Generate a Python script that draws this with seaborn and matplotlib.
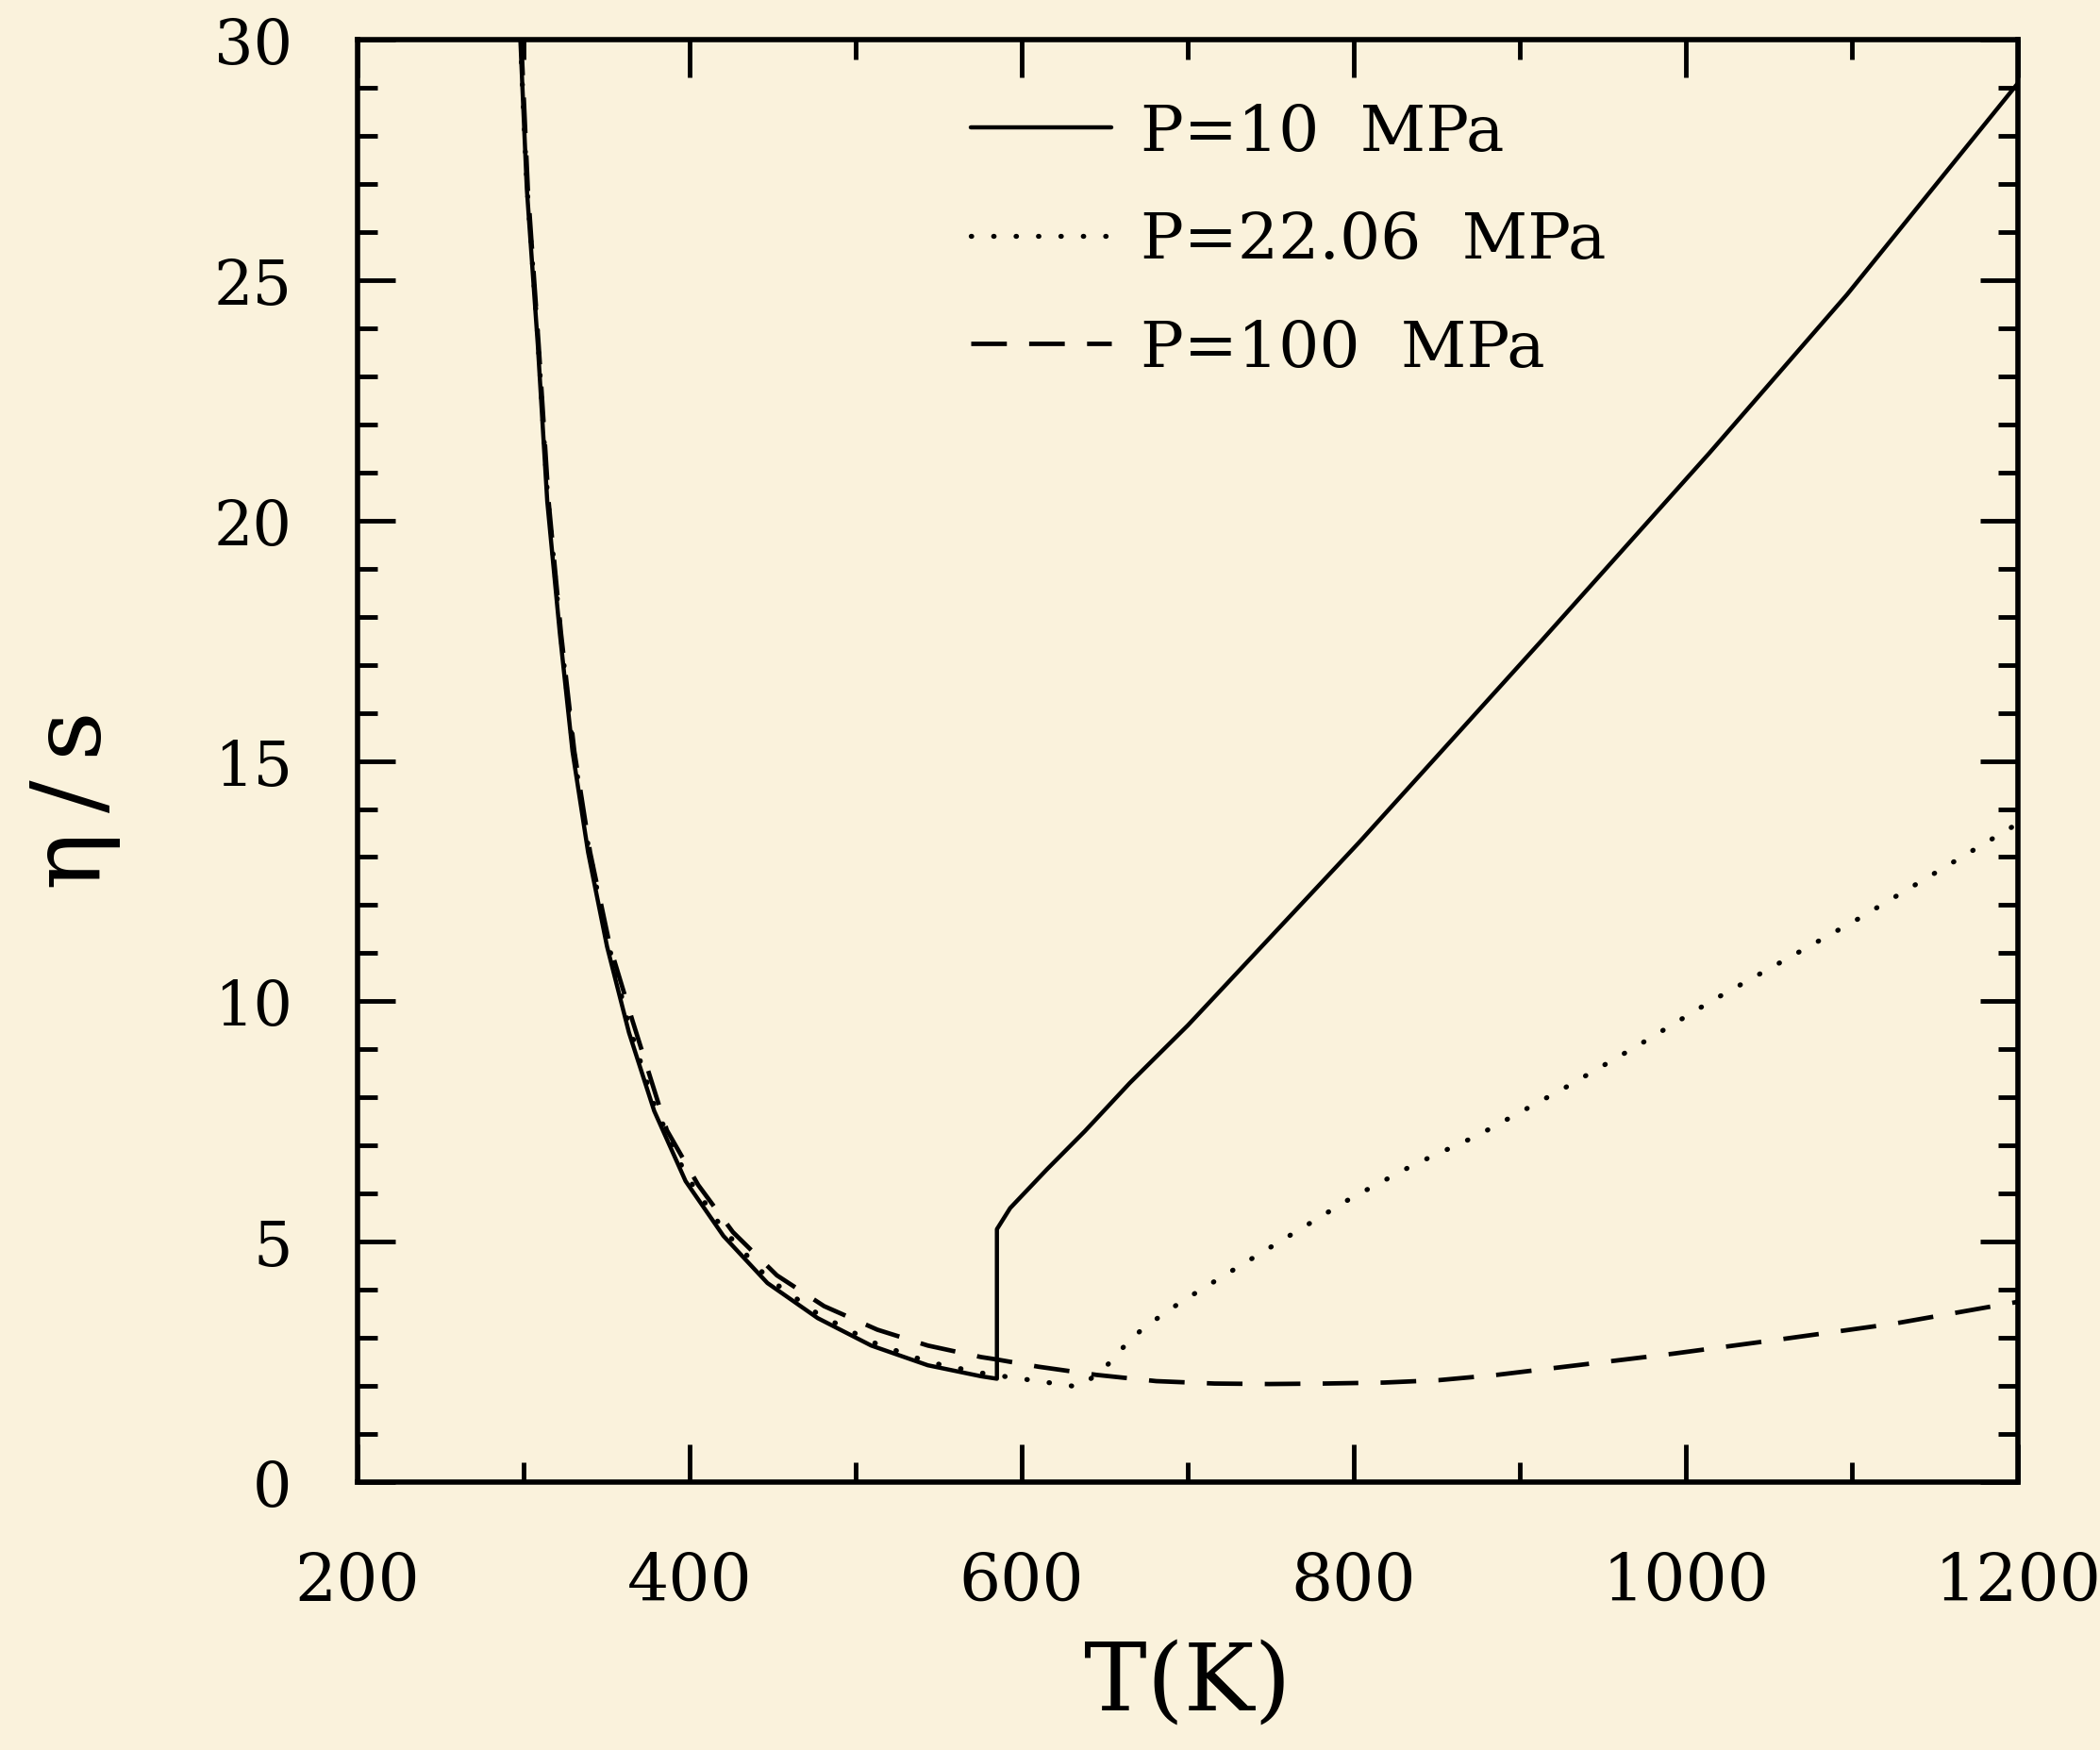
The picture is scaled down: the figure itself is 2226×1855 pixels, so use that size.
import matplotlib
matplotlib.use("Agg")
import matplotlib.pyplot as plt
import seaborn as sns
import pandas as pd
from matplotlib.ticker import MultipleLocator

# ---- data ----
labels = ["P=10  MPa", "P=22.06  MPa", "P=100  MPa"]

T_10 = [298, 301.9, 308.5, 314.2, 321.8, 329.4, 338.8, 350.2, 363.4, 378.6, 397.5, 420.3,
        446.8, 477.1, 509.3, 543.4, 575.6, 585,
        585, 593, 615, 638, 665, 700, 803, 913, 1014, 1097, 1200]
v_10 = [30, 26.9, 23.66, 20.4, 17.65, 15.2, 13.1, 11.14, 9.35, 7.72, 6.26, 5.12,
        4.14, 3.41, 2.84, 2.43, 2.2, 2.15,
        5.26, 5.7, 6.5, 7.3, 8.3, 9.5, 13.3, 17.5, 21.4, 24.7, 29.1]

T_22 = [298, 301.9, 308.5, 314.2, 321.8, 329.4, 338.8, 350.2, 363.4, 378.6, 397.5, 420.3,
        446.8, 477.1, 509.3, 543.4, 575.6, 585,
        610, 634, 648, 661, 673, 696, 722, 760, 798, 836, 874, 927, 972, 1015, 1103, 1200]
v_22 = [30, 27.0, 23.8, 20.6, 17.8, 15.35, 13.25, 11.3, 9.5, 7.85, 6.4, 5.25,
        4.25, 3.5, 2.92, 2.5, 2.27, 2.22,
        2.1, 1.98, 2.3, 2.8, 3.2, 3.75, 4.3, 5.1, 5.9, 6.6, 7.2, 8.2, 9.1, 10.0, 11.7, 13.7]

T_100 = [298.5, 302.5, 309, 315, 322.5, 330.5, 340, 352, 365.5, 386.2, 405.1, 426, 452.5,
         480.9, 513, 543.4, 575.6, 585, 610, 645, 681, 716, 749, 782, 818, 851, 886, 915,
         992, 1057, 1126, 1200]
v_100 = [30, 26.9, 23.66, 20.4, 17.65, 15.2, 13.1, 11.14, 9.6, 7.32, 6.18, 5.2, 4.3,
         3.66, 3.17, 2.84, 2.6, 2.55, 2.4, 2.23, 2.1, 2.05, 2.04, 2.05, 2.07, 2.12, 2.23, 2.35,
         2.67, 2.97, 3.3, 3.75]

x_ticks = [200, 400, 600, 800, 1000, 1200]
y_ticks = [0, 5, 10, 15, 20, 25, 30]

series = [(labels[0], T_10, v_10), (labels[1], T_22, v_22), (labels[2], T_100, v_100)]
rows = []
for name, ts, vs in series:
    for i, (t, v) in enumerate(zip(ts, vs)):
        rows.append({"T": t, "eta_s": v, "P": name, "order": i})
df = pd.DataFrame(rows)

# ---- style ----
sns.set_theme(style="ticks")
bg = "#faf2dc"
plt.rcParams["font.family"] = ["DejaVu Serif"]
for k in ["text.color", "axes.labelcolor", "xtick.color", "ytick.color", "axes.edgecolor"]:
    plt.rcParams[k] = "black"

fig = plt.figure(figsize=(22.26, 18.56), dpi=100, facecolor=bg)
ax = fig.add_axes([0.1703, 0.1530, 0.7907, 0.8238])
ax.set_facecolor(bg)

dash_map = {labels[0]: "", labels[1]: (0.1, 4.4), labels[2]: (8, 5)}
lw_list = [3.2, 3.8, 3.4]
cap_list = ["butt", "round", "butt"]

sns.lineplot(data=df, x="T", y="eta_s", hue="P", style="P",
             hue_order=labels, style_order=labels,
             palette=["black"] * 3, dashes=dash_map,
             estimator=None, sort=False, lw=3.2, ax=ax, legend=True)

ax.set_xlim(200, 1200)
ax.set_ylim(0, 30)
ax.set_xticks(x_ticks)
ax.set_yticks(y_ticks)
ax.xaxis.set_minor_locator(MultipleLocator(100))
ax.yaxis.set_minor_locator(MultipleLocator(1))

for s in ax.spines.values():
    s.set_linewidth(4)
    s.set_color("black")
    s.set_visible(True)

ax.tick_params(which="both", direction="in", top=True, right=True, color="black",
               labelcolor="black")
ax.tick_params(which="major", length=29, width=3.5)
ax.tick_params(which="minor", length=15, width=3.5)
ax.tick_params(axis="x", which="major", labelsize=50, pad=52)
ax.tick_params(axis="y", which="major", labelsize=47, pad=50)

ax.set_xlabel("T(K)", fontsize=72, va="top", color="black")
ax.xaxis.set_label_coords(0.5, -0.109)
ax.set_ylabel("η\u2009/\u2009s", fontsize=74, va="center", color="black")
ax.yaxis.set_label_coords(-0.171, 0.4735)

leg = ax.legend(loc="upper left", bbox_to_anchor=(0.369, 0.957), frameon=False,
                fontsize=49, handlelength=2.2, handletextpad=0.45,
                labelspacing=0.72, borderpad=0, borderaxespad=0)
for t in leg.get_texts():
    t.set_color("black")

data_lines = ax.get_lines()[:3]
for group in (data_lines, leg.get_lines()):
    for ln, lw, cap in zip(group, lw_list, cap_list):
        ln.set_linewidth(lw)
        ln.set_dash_capstyle(cap)

fig.savefig("out.png", dpi=100, facecolor=bg)
